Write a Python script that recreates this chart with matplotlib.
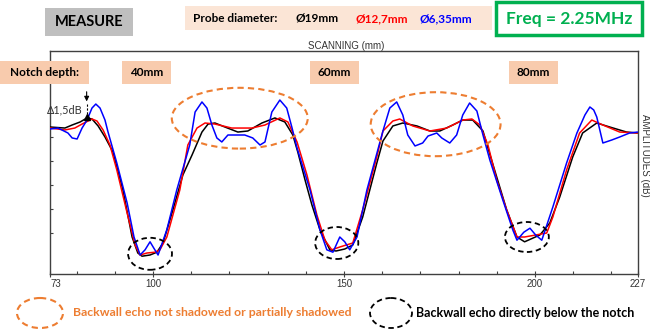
import matplotlib.pyplot as plt
from matplotlib.patches import Ellipse, Rectangle

# Сканирование (мм) и амплитуда донного сигнала (дБ) для трёх преобразователей
scan_19 = [73.0, 76.9, 78.8, 80.9, 82.7, 84.0, 85.6, 87.4, 89.5, 92.1, 94.5, 96.0,
           97.1, 99.2, 101.0, 102.6, 105.2, 107.8, 110.2, 112.8, 114.4, 116.2,
           118.8, 122.2, 124.8, 128.5, 131.9, 134.5, 136.6, 137.9, 139.8, 141.6,
           143.7, 146.3, 147.9, 150.2, 152.3, 154.9, 158.6, 160.2, 162.8, 165.4,
           169.1, 172.5, 175.1, 178.5, 181.1, 183.7, 186.4, 187.7, 190.0, 192.6,
           195.3, 197.3, 201.3, 203.9, 206.5, 209.9, 212.5, 216.2, 219.6, 224.0,
           226.9]
amp_19 = [-0.25, -0.38, 0.0, 0.38, 0.88, 0.75, -0.12, -1.5, -3.38, -8.12, -14.0, -16.0,
          -16.4, -16.25, -15.9, -14.75, -10.6, -6.25, -3.75, -0.88, 0.12, 0.25,
          -0.25, -0.88, -0.75, 0.25, 0.88, 0.38, -1.25, -3.38, -6.88, -10.0,
          -13.1, -15.6, -15.75, -15.5, -15.0, -11.5, -4.75, -2.0, -0.12, 0.25,
          -0.12, -0.75, -0.75, 0.0, 0.62, 0.62, -0.75, -2.88, -6.5, -10.6,
          -14.0, -14.6, -13.75, -12.25, -9.0, -4.0, -1.0, 0.25, -0.25, -0.88,
          -1.0]

scan_12 = [73.0, 76.9, 79.5, 81.4, 84.0, 85.3, 86.9, 88.7, 90.5, 93.2, 95.3, 96.6,
           98.4, 100.5, 101.8, 103.6, 107.0, 109.1, 111.5, 113.6, 116.2, 120.6,
           125.9, 129.3, 133.2, 135.3, 137.7, 140.3, 142.9, 145.0, 146.8, 148.9,
           152.3, 154.9, 158.6, 160.2, 162.8, 164.6, 168.0, 172.5, 176.9, 181.1,
           183.5, 185.6, 187.7, 190.0, 192.6, 195.3, 197.3, 203.1, 204.7, 208.3,
           211.7, 214.9, 217.8, 222.2, 226.9]
amp_12 = [-0.38, -0.62, -0.38, 0.12, 0.75, 0.5, -0.62, -2.5, -5.62, -11.0, -15.0, -16.25,
          -16.0, -15.9, -15.6, -14.0, -8.12, -2.5, -0.38, 0.25, 0.12, -0.38,
          -0.38, 0.0, 0.88, 0.38, -2.12, -6.25, -11.25, -14.4, -15.6, -15.25,
          -14.75, -10.6, -4.0, -0.75, 0.5, 0.75, -0.12, -0.75, -0.38, 0.62,
          0.75, 0.0, -2.5, -6.88, -10.6, -14.0, -14.0, -13.5, -11.5, -5.62,
          -1.0, 0.62, 0.0, -0.88, -1.0]

scan_6 = [73.0, 75.1, 77.7, 78.8, 80.1, 81.4, 82.7, 84.0, 85.0, 86.1, 87.4, 88.2,
          90.5, 93.2, 95.0, 96.6, 97.9, 99.2, 100.2, 101.3, 103.6, 106.2, 109.6,
          111.0, 112.8, 114.1, 115.4, 116.7, 118.0, 119.6, 121.4, 124.0, 126.1,
          128.0, 129.3, 131.1, 133.2, 135.0, 136.4, 137.7, 141.1, 143.7, 145.5,
          147.1, 148.9, 150.2, 151.5, 153.4, 156.0, 160.2, 162.0, 163.8, 165.4,
          166.7, 168.6, 170.6, 172.0, 174.3, 175.6, 177.7, 179.5, 181.1, 182.9,
          184.8, 186.4, 188.2, 191.6, 194.2, 195.3, 197.1, 198.7, 200.2, 201.8,
          204.7, 208.3, 211.0, 213.1, 214.4, 215.4, 216.2, 217.8, 220.1, 222.2,
          224.8, 226.9]
amp_6 = [-0.5, -0.38, -1.0, -1.62, -1.75, -0.38, 0.62, 2.12, 2.62, 2.12, 0.62, -0.88,
         -4.75, -9.75, -14.0, -16.25, -15.6, -14.6, -15.4, -16.25, -13.1, -8.12, -2.5,
         1.62, 2.88, 2.12, 0.0, -1.62, -2.12, -1.25, -1.25, -1.25, -1.62,
         -2.5, -2.12, 1.62, 3.12, 2.12, -0.38, -2.88, -8.12, -13.1, -15.6,
         -15.9, -14.0, -14.6, -15.6, -14.0, -8.12, -0.75, 2.12, 2.88, 1.25,
         -1.25, -2.62, -2.25, -1.38, -1.0, -1.62, -2.25, -1.25, 1.25, 2.75,
         1.75, -1.25, -4.38, -9.38, -13.1, -14.4, -13.4, -12.9, -13.75, -14.4,
         -10.25, -4.75, -1.0, 1.25, 2.25, 1.88, 1.0, -2.25, -1.88, -1.5,
         -1.0, -0.88]

x_ticks = [73, 100, 150, 200, 227]
notch_depths = ['40mm', '60mm', '80mm']

ORANGE = '#ed7d31'
PEACH = '#f8cbad'
FONT = ['Lato', 'DejaVu Sans']
AXFONT = ['Liberation Sans Narrow', 'Liberation Sans', 'DejaVu Sans']

fig = plt.figure(figsize=(6.5, 3.29), dpi=100)
ax = fig.add_axes([50 / 650, 1 - 274 / 329, 588 / 650, 223 / 329])

line_kw = dict(lw=1.1, solid_joinstyle='round', solid_capstyle='round')
ax.plot(scan_19, amp_19, color='black', zorder=3, **line_kw)
ax.plot(scan_12, amp_12, color='red', zorder=4, **line_kw)
ax.plot(scan_6, amp_6, color='blue', zorder=5, **line_kw)

ax.set_xlim(73, 227)
ax.set_ylim(-18.625, 9.25)
ax.set_xticks(x_ticks)
ax.set_xticks(range(80, 227, 10), minor=True)
ax.set_xticklabels([str(t) for t in x_ticks], fontsize=7, color='#333333', family=AXFONT)
ax.get_xticklabels()[0].set_horizontalalignment('left')
ax.set_yticks([-1.5, -4.5, -7.5, -10.5, -13.5])
ax.set_yticklabels([])
ax.tick_params(axis='x', which='major', direction='inout', length=5, width=0.8,
               color='#404040', pad=1)
ax.tick_params(axis='x', which='minor', direction='in', length=2.5, width=0.8,
               color='#404040')
ax.tick_params(axis='y', direction='in', length=2.5, width=0.8, color='#404040')
for sp in ax.spines.values():
    sp.set_color('#404040')
    sp.set_linewidth(1.0)

# Эллипсы: оранжевые - донный сигнал не затенён, чёрные - сигнал под надрезом
for cx, cy, w, h in [(122.7, 0.85, 35.6, 7.6), (174.0, 0.1, 34.0, 8.0)]:
    ax.add_patch(Ellipse((cx, cy), w, h, fill=False, ec=ORANGE, lw=1.5,
                         ls=(0, (3, 2)), zorder=6))
for cx, cy, w, h in [(99.2, -16.1, 11.5, 4.0), (148.1, -14.75, 11.3, 4.0),
                     (197.9, -14.0, 11.5, 3.75)]:
    ax.add_patch(Ellipse((cx, cy), w, h, fill=False, ec='black', lw=1.3,
                         ls=(0, (3, 2)), zorder=6))

# Стрелка Δ1,5dB у первого надреза
ax.annotate('', xy=(82.6, 2.6), xytext=(82.6, 4.5),
            arrowprops=dict(arrowstyle='-|>', color='black', lw=0.8,
                            mutation_scale=7), zorder=7)
ax.plot([82.6, 82.6], [2.6, 0.9], color='black', lw=0.8, ls=(0, (2, 1.5)), zorder=7)
ax.plot([82.6], [0.95], marker='^', color='black', ms=4, zorder=7)
ax.text(81.6, 1.9, 'Δ1,5dB', fontsize=7.8, ha='right', va='center',
        color='#333333', family=FONT, zorder=7)

# Надписи вокруг графика в пикселях
ov = fig.add_axes([0, 0, 1, 1], zorder=10)
ov.set_xlim(0, 650)
ov.set_ylim(329, 0)
ov.axis('off')

ov.add_patch(Rectangle((45, 8), 88, 28, fc='#bfbfbf', ec='none'))
ov.text(89, 22, 'MEASURE', fontsize=10.5, fontweight='bold', ha='center',
        va='center', family=FONT)

ov.add_patch(Rectangle((185, 6), 307, 24, fc='#fbe5d6', ec='none'))
ov.text(193, 18.5, 'Probe diameter:', fontsize=8.5, fontweight='bold', va='center',
        family=FONT)
ov.text(296, 18.5, 'Ø19mm', fontsize=8.5, fontweight='bold', va='center',
        family=FONT, color='black')
ov.text(355, 18.5, 'Ø12,7mm', fontsize=8.5, fontweight='bold', va='center',
        family=FONT, color='red')
ov.text(419, 18.5, 'Ø6,35mm', fontsize=8.5, fontweight='bold', va='center',
        family=FONT, color='blue')

ov.add_patch(Rectangle((496, 2), 146, 33, fc='white', ec='#00b050', lw=2.5))
ov.text(569, 19, 'Freq = 2.25MHz', fontsize=12.5, fontweight='bold', ha='center',
        va='center', family=FONT, color='#00b050')

ov.text(346, 46, 'SCANNING (mm)', fontsize=7, ha='center', va='center',
        color='#333333', family=AXFONT)
ov.text(645, 155, 'AMPLITUDES (dB)', fontsize=7, ha='center', va='center',
        rotation=-90, color='#333333', family=AXFONT)

ov.add_patch(Rectangle((0, 61), 89, 23, fc=PEACH, ec='none'))
ov.text(44, 72.5, 'Notch depth:', fontsize=8.5, fontweight='bold', ha='center',
        va='center', family=FONT)
for x0, label in zip([122, 310, 509], notch_depths):
    ov.add_patch(Rectangle((x0, 61), 49, 23, fc=PEACH, ec='none'))
    ov.text(x0 + 24.5, 72.5, label, fontsize=8.5, fontweight='bold', ha='center',
            va='center', family=FONT)

# Условные обозначения внизу
ov.add_patch(Ellipse((40, 313), 46, 30, fill=False, ec=ORANGE, lw=1.5, ls=(0, (3, 2))))
ov.text(73, 313, 'Backwall echo not shadowed or partially shadowed', fontsize=8.8,
        fontweight='bold', va='center', color=ORANGE, family=FONT)
ov.add_patch(Ellipse((391, 313), 42, 30, fill=False, ec='black', lw=1.3, ls=(0, (3, 2))))
ov.text(416, 313, 'Backwall echo directly below the notch', fontsize=9,
        fontweight='bold', va='center', color='black', family=FONT)

fig.savefig('out.png', dpi=100)
